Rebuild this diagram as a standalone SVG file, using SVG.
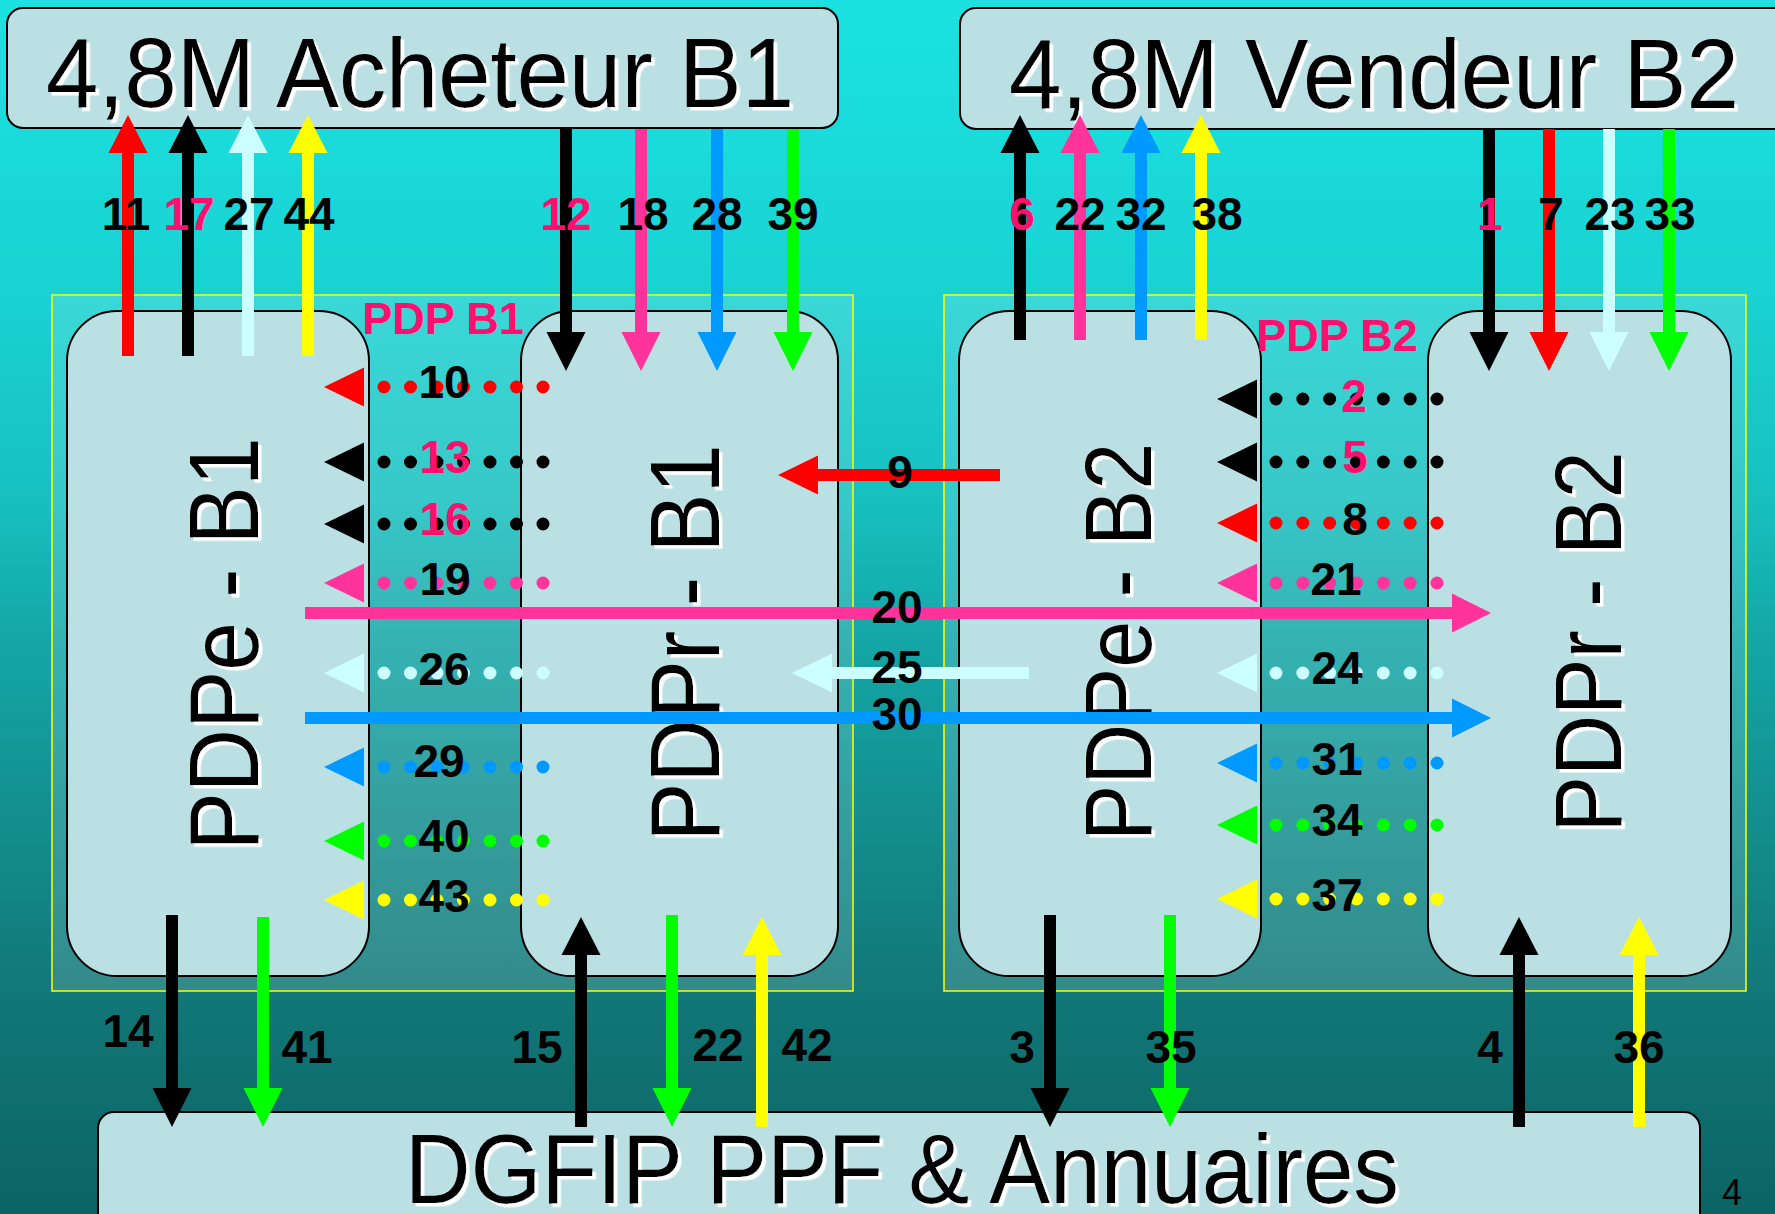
<svg xmlns="http://www.w3.org/2000/svg" width="1775" height="1214" viewBox="0 0 1775 1214">
<defs>
<linearGradient id="bg" x1="0" y1="0" x2="0" y2="1">
<stop offset="0" stop-color="#1BE2E2"/>
<stop offset="0.23" stop-color="#1AD3D3"/>
<stop offset="0.41" stop-color="#18C0C0"/>
<stop offset="0.535" stop-color="#14A5A5"/>
<stop offset="0.82" stop-color="#127777"/>
<stop offset="1" stop-color="#0B6464"/>
</linearGradient>
<filter id="sh" x="-5%" y="-5%" width="110%" height="120%"><feDropShadow dx="3.5" dy="3.5" stdDeviation="0" flood-color="#fff"/></filter>
<filter id="shr" x="-5%" y="-10%" width="110%" height="120%"><feDropShadow dx="-3.5" dy="3.5" stdDeviation="0" flood-color="#fff"/></filter>
</defs>
<style>
.box{fill:#BBE0E3;stroke:#000;stroke-width:2}
.cont{fill:#fff;fill-opacity:0.14;stroke:#FFFF00;stroke-width:1.5}
.big{font-family:"Liberation Sans",Arial,sans-serif;font-size:98px;fill:#000}
.vt{font-family:"Liberation Sans",Arial,sans-serif;font-size:98px;fill:#000;text-anchor:middle}
.pdp{font-family:"Liberation Sans",Arial,sans-serif;font-size:45px;font-weight:bold;fill:#FF0F6E;text-anchor:middle}
.lb{font-family:"Liberation Sans",Arial,sans-serif;font-size:46px;font-weight:bold;fill:#000;text-anchor:middle}
.pk{fill:#FF0F6E}
line{stroke-width:12}
polygon{stroke:none}
.dots line{stroke-width:13;stroke-linecap:round;stroke-dasharray:0 26.5}
.dots2 line{stroke-width:13;stroke-linecap:round;stroke-dasharray:0 26.83}
.red{stroke:#FF0000;fill:#FF0000}
.blk{stroke:#000;fill:#000}
.cy{stroke:#CCFFFF;fill:#CCFFFF}
.yel{stroke:#FFFF00;fill:#FFFF00}
.pink{stroke:#FF3399;fill:#FF3399}
.blue{stroke:#0099FF;fill:#0099FF}
.grn{stroke:#00FF00;fill:#00FF00}
</style>
<rect x="0" y="0" width="1775" height="1214" fill="url(#bg)"/>

<g id="pdp-b1">
<rect class="cont" x="52" y="295" width="801" height="696"/>
</g>
<g id="pdp-b2">
<rect class="cont" x="944" y="295" width="802" height="696"/>
</g>

<g id="acheteur-b1">
<rect class="box" x="7" y="8" width="831" height="120" rx="16"/>
<text class="big" x="420" y="107" text-anchor="middle" textLength="748" lengthAdjust="spacingAndGlyphs" filter="url(#sh)">4,8M Acheteur B1</text>
</g>
<g id="vendeur-b2">
<rect class="box" x="960" y="8" width="840" height="121" rx="16"/>
<text class="big" x="1374" y="108" text-anchor="middle" textLength="730" lengthAdjust="spacingAndGlyphs" filter="url(#sh)">4,8M Vendeur B2</text>
</g>
<g id="dgfip">
<rect class="box" x="98" y="1112" width="1602" height="140" rx="16"/>
<text class="big" x="902" y="1203" text-anchor="middle" textLength="994" lengthAdjust="spacingAndGlyphs" filter="url(#sh)">DGFIP PPF &amp; Annuaires</text>
</g>

<g id="pdpe-b1">
<rect class="box" x="67" y="311" width="302" height="665" rx="50"/>
<text class="vt" transform="translate(258,644) rotate(-90)" textLength="413" lengthAdjust="spacingAndGlyphs" filter="url(#shr)">PDPe - B1</text>
</g>
<g id="pdpr-b1">
<rect class="box" x="521" y="311" width="317" height="665" rx="50"/>
<text class="vt" transform="translate(719,643) rotate(-90)" textLength="397" lengthAdjust="spacingAndGlyphs" filter="url(#shr)">PDPr - B1</text>
</g>
<g id="pdpe-b2">
<rect class="box" x="959" y="311" width="302" height="665" rx="50"/>
<text class="vt" style="font-size:94px" transform="translate(1151,642) rotate(-90)" textLength="398" lengthAdjust="spacingAndGlyphs" filter="url(#shr)">PDPe - B2</text>
</g>
<g id="pdpr-b2">
<rect class="box" x="1428" y="311" width="303" height="665" rx="50"/>
<text class="vt" style="font-size:94px" transform="translate(1621,642) rotate(-90)" textLength="381" lengthAdjust="spacingAndGlyphs" filter="url(#shr)">PDPr - B2</text>
</g>

<text class="pdp" x="443" y="334">PDP B1</text>
<text class="pdp" x="1337" y="351">PDP B2</text>

<g id="connectors">
<!-- PDPe-B1 up to Acheteur -->
<g class="red"><line x1="128" y1="356" x2="128" y2="150"/><polygon points="128,115 108.5,153 147.5,153"/></g>
<g class="blk"><line x1="188" y1="356" x2="188" y2="150"/><polygon points="188,115 168.5,153 207.5,153"/></g>
<g class="cy"><line x1="248" y1="356" x2="248" y2="150"/><polygon points="248,115 228.5,153 267.5,153"/></g>
<g class="yel"><line x1="308" y1="356" x2="308" y2="150"/><polygon points="308,115 288.5,153 327.5,153"/></g>
<!-- Acheteur down to PDPr-B1 -->
<g class="blk"><line x1="566" y1="129" x2="566" y2="335"/><polygon points="566,371 546.5,332 585.5,332"/></g>
<g class="pink"><line x1="641" y1="129" x2="641" y2="335"/><polygon points="641,371 621.5,332 660.5,332"/></g>
<g class="blue"><line x1="717" y1="129" x2="717" y2="335"/><polygon points="717,371 697.5,332 736.5,332"/></g>
<g class="grn"><line x1="793" y1="129" x2="793" y2="335"/><polygon points="793,371 773.5,332 812.5,332"/></g>
<!-- PDPe-B2 up to Vendeur -->
<g class="blk"><line x1="1020" y1="340" x2="1020" y2="150"/><polygon points="1020,115 1000.5,153 1039.5,153"/></g>
<g class="pink"><line x1="1080" y1="340" x2="1080" y2="150"/><polygon points="1080,115 1060.5,153 1099.5,153"/></g>
<g class="blue"><line x1="1141" y1="340" x2="1141" y2="150"/><polygon points="1141,115 1121.5,153 1160.5,153"/></g>
<g class="yel"><line x1="1201" y1="340" x2="1201" y2="150"/><polygon points="1201,115 1181.5,153 1220.5,153"/></g>
<!-- Vendeur down to PDPr-B2 -->
<g class="blk"><line x1="1489" y1="129" x2="1489" y2="335"/><polygon points="1489,371 1469.5,332 1508.5,332"/></g>
<g class="red"><line x1="1549" y1="129" x2="1549" y2="335"/><polygon points="1549,371 1529.5,332 1568.5,332"/></g>
<g class="cy"><line x1="1609" y1="129" x2="1609" y2="335"/><polygon points="1609,371 1589.5,332 1628.5,332"/></g>
<g class="grn"><line x1="1669" y1="129" x2="1669" y2="335"/><polygon points="1669,371 1649.5,332 1688.5,332"/></g>

<!-- dotted arrows PDP B1 -->
<g class="red dots"><line x1="384" y1="387" x2="544" y2="387"/><polygon points="324,387 364,367.5 364,406.5"/></g>
<g class="blk dots"><line x1="384" y1="462" x2="544" y2="462"/><polygon points="324,462 364,442.5 364,481.5"/></g>
<g class="blk dots"><line x1="384" y1="524" x2="544" y2="524"/><polygon points="324,524 364,504.5 364,543.5"/></g>
<g class="pink dots"><line x1="384" y1="583" x2="544" y2="583"/><polygon points="324,583 364,563.5 364,602.5"/></g>
<g class="cy dots"><line x1="384" y1="673" x2="544" y2="673"/><polygon points="324,673 364,653.5 364,692.5"/></g>
<g class="blue dots"><line x1="384" y1="767" x2="544" y2="767"/><polygon points="324,767 364,747.5 364,786.5"/></g>
<g class="grn dots"><line x1="384" y1="841" x2="544" y2="841"/><polygon points="324,841 364,821.5 364,860.5"/></g>
<g class="yel dots"><line x1="384" y1="900" x2="544" y2="900"/><polygon points="324,900 364,880.5 364,919.5"/></g>
<!-- dotted arrows PDP B2 -->
<g class="blk dots2"><line x1="1276" y1="399" x2="1438" y2="399"/><polygon points="1217,399 1257,379.5 1257,418.5"/></g>
<g class="blk dots2"><line x1="1276" y1="462" x2="1438" y2="462"/><polygon points="1217,462 1257,442.5 1257,481.5"/></g>
<g class="red dots2"><line x1="1276" y1="523" x2="1438" y2="523"/><polygon points="1217,523 1257,503.5 1257,542.5"/></g>
<g class="pink dots2"><line x1="1276" y1="583" x2="1438" y2="583"/><polygon points="1217,583 1257,563.5 1257,602.5"/></g>
<g class="cy dots2"><line x1="1276" y1="673" x2="1438" y2="673"/><polygon points="1217,673 1257,653.5 1257,692.5"/></g>
<g class="blue dots2"><line x1="1276" y1="763" x2="1438" y2="763"/><polygon points="1217,763 1257,743.5 1257,782.5"/></g>
<g class="grn dots2"><line x1="1276" y1="825" x2="1438" y2="825"/><polygon points="1217,825 1257,805.5 1257,844.5"/></g>
<g class="yel dots2"><line x1="1276" y1="899" x2="1438" y2="899"/><polygon points="1217,899 1257,879.5 1257,918.5"/></g>

<!-- horizontal arrows -->
<g class="red"><line x1="1000" y1="475" x2="815" y2="475"/><polygon points="778,475 818,455.5 818,494.5"/></g>
<g class="pink"><line x1="305" y1="613" x2="1455" y2="613"/><polygon points="1491,613 1452,593.5 1452,632.5"/></g>
<g class="cy"><line x1="1029" y1="673" x2="829" y2="673"/><polygon points="792,673 832,653.5 832,692.5"/></g>
<g class="blue"><line x1="305" y1="718" x2="1455" y2="718"/><polygon points="1491,718 1452,698.5 1452,737.5"/></g>

<!-- bottom arrows -->
<g class="blk"><line x1="172" y1="915" x2="172" y2="1091"/><polygon points="172,1127 152.5,1088 191.5,1088"/></g>
<g class="grn"><line x1="263" y1="917" x2="263" y2="1091"/><polygon points="263,1127 243.5,1088 282.5,1088"/></g>
<g class="blk"><line x1="581" y1="1127" x2="581" y2="952"/><polygon points="581,917 561.5,955 600.5,955"/></g>
<g class="grn"><line x1="672" y1="915" x2="672" y2="1091"/><polygon points="672,1127 652.5,1088 691.5,1088"/></g>
<g class="yel"><line x1="762" y1="1127" x2="762" y2="952"/><polygon points="762,917 742.5,955 781.5,955"/></g>
<g class="blk"><line x1="1050" y1="915" x2="1050" y2="1091"/><polygon points="1050,1127 1030.5,1088 1069.5,1088"/></g>
<g class="grn"><line x1="1170" y1="915" x2="1170" y2="1091"/><polygon points="1170,1127 1150.5,1088 1189.5,1088"/></g>
<g class="blk"><line x1="1519" y1="1127" x2="1519" y2="952"/><polygon points="1519,917 1499.5,955 1538.5,955"/></g>
<g class="yel"><line x1="1639" y1="1127" x2="1639" y2="952"/><polygon points="1639,917 1619.5,955 1658.5,955"/></g>

<!-- labels -->
<g class="lb">
<text x="126" y="230">11</text>
<text class="pk" x="189" y="230">17</text>
<text x="249" y="230">27</text>
<text x="309" y="230">44</text>
<text class="pk" x="566" y="230">12</text>
<text x="643" y="230">18</text>
<text x="717" y="230">28</text>
<text x="793" y="230">39</text>
<text class="pk" x="1022" y="230">6</text>
<text x="1080" y="230">22</text>
<text x="1141" y="230">32</text>
<text x="1217" y="230">38</text>
<text class="pk" x="1490" y="230">1</text>
<text x="1551" y="230">7</text>
<text x="1610" y="230">23</text>
<text x="1670" y="230">33</text>

<text x="444" y="398">10</text>
<text class="pk" x="445" y="473">13</text>
<text class="pk" x="445" y="535">16</text>
<text x="445" y="595">19</text>
<text x="444" y="685">26</text>
<text x="439" y="777">29</text>
<text x="444" y="852">40</text>
<text x="444" y="912">43</text>

<text class="pk" x="1354" y="412">2</text>
<text class="pk" x="1355" y="473">5</text>
<text x="1355" y="535">8</text>
<text x="1336" y="595">21</text>
<text x="1337" y="684">24</text>
<text x="1337" y="775">31</text>
<text x="1337" y="836">34</text>
<text x="1337" y="911">37</text>

<text x="900" y="488">9</text>
<text x="897" y="623">20</text>
<text x="897" y="683">25</text>
<text x="897" y="730">30</text>

<text x="128" y="1047">14</text>
<text x="307" y="1063">41</text>
<text x="537" y="1063">15</text>
<text x="718" y="1061">22</text>
<text x="807" y="1061">42</text>
<text x="1022" y="1063">3</text>
<text x="1171" y="1063">35</text>
<text x="1490" y="1063">4</text>
<text x="1639" y="1063">36</text>
</g>
</g>

<text x="1732" y="1205" font-family="Liberation Sans, Arial, sans-serif" font-size="36" text-anchor="middle" fill="#000">4</text>
</svg>
